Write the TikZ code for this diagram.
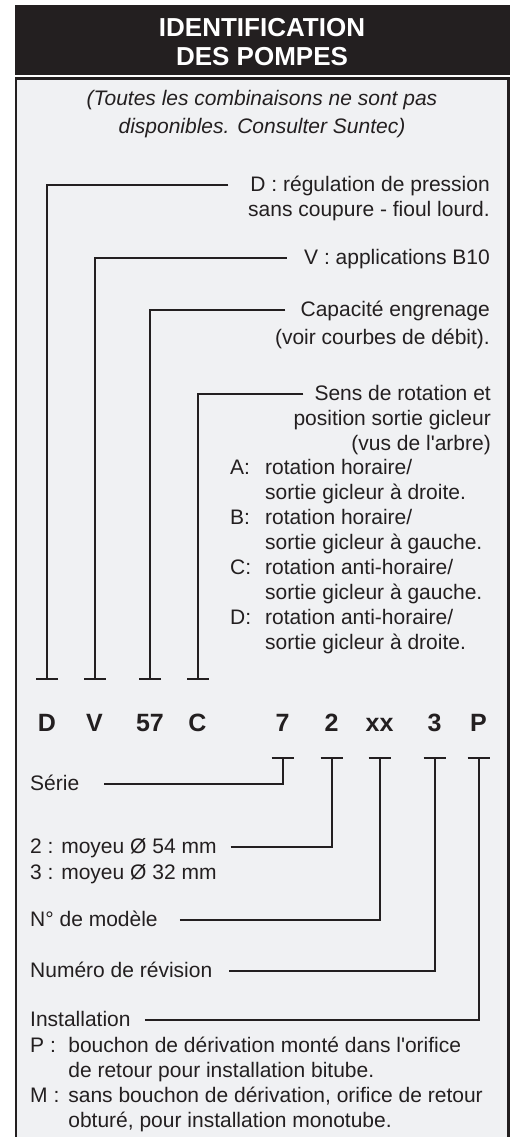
\documentclass[tikz,border=0pt]{standalone}
\usepackage{fontspec}
\setmainfont{Liberation Sans}
\usetikzlibrary{positioning, arrows.meta}
\definecolor{ink}{HTML}{231F20}
\definecolor{paper}{HTML}{F0F1F3}

\begin{document}
\begin{tikzpicture}[x=1pt,y=-1pt,node distance=25pt]
    \tikzset{txt/.style={font=\fontsize{21}{25}\selectfont,text=ink,inner sep=0pt,text height=14pt,text depth=2pt}}
    \tikzset{block/.style={font=\fontsize{21}{25}\selectfont,text=ink,inner sep=0pt}}
    \tikzset{code/.style={font=\fontsize{25}{30}\selectfont\bfseries,text=ink,inner sep=0pt,anchor=base,text height=18pt,text depth=0pt}}
    \tikzset{tee/.style={draw=ink,line width=2pt,-{Bar[width=22pt]}}}

    \useasboundingbox (0,0) rectangle (513,1137);

    % header and frame
    \fill[ink] (15,5) rectangle (509.5,75.5);
    \filldraw[fill=paper,draw=ink,line width=2.5pt] (16.2,78.5) rectangle (508.3,1160);

    \node[font=\fontsize{26}{28}\selectfont\bfseries,text=white,inner sep=0pt,anchor=base] (title1) at (262,37) {IDENTIFICATION};
    \node[font=\fontsize{26}{28}\selectfont\bfseries,text=white,inner sep=0pt,below=29pt of title1.base,anchor=base] (title2) {DES POMPES};

    \node[block,font=\fontsize{21}{25}\selectfont\itshape,anchor=base] (note1) at (262,106) {(Toutes les combinaisons ne sont pas};
    \node[block,font=\fontsize{21}{25}\selectfont\itshape,below=27pt of note1.base,anchor=base] (note2) {disponibles. Consulter Suntec)};

    % code letters
    \node[code] (cD) at (47,731) {D};
    \node[code] (cV) at (94.5,731) {V};
    \node[code] (c57) at (150,731) {57};
    \node[code] (cC) at (197.5,731) {C};
    \node[code] (c7) at (282.5,731) {7};
    \node[code] (c2) at (331.5,731) {2};
    \node[code] (cxx) at (379.5,731) {xx};
    \node[code] (c3) at (434.5,731) {3};
    \node[code] (cP) at (478.5,731) {P};

    \coordinate (tD) at ([yshift=33pt]cD.north);
    \coordinate (tV) at ([yshift=33pt]cV.north);
    \coordinate (t57) at ([yshift=33pt]c57.north);
    \coordinate (tC) at ([yshift=33pt]cC.north);
    \coordinate (b7) at ([yshift=-26pt]c7.south);
    \coordinate (b2) at ([yshift=-26pt]c2.south);
    \coordinate (bxx) at ([yshift=-26pt]cxx.south);
    \coordinate (b3) at ([yshift=-26pt]c3.south);
    \coordinate (bP) at ([yshift=-26pt]cP.south);

    % upper texts
    \node[txt,anchor=base east] (capD) at (490,191) {D : régulation de pression};
    \node[txt,below=25pt of capD.base east,anchor=base east] (capD2) {sans coupure - fioul lourd.};

    \node[txt,anchor=base east] (capV) at (490,264) {V : applications B10};

    \node[txt,anchor=base east] (capG) at (490,316) {Capacité engrenage};
    \node[txt,below=28pt of capG.base east,anchor=base east] (capG2) {(voir courbes de débit).};

    \node[txt,anchor=base east] (capC) at (491,400) {Sens de rotation et};
    \node[txt,below=25pt of capC.base east,anchor=base east] (capC2) {position sortie gicleur};
    \node[txt,below=25pt of capC2.base east,anchor=base east] (capC3) {(vus de l\textquotesingle arbre)};
    \node[block,anchor=base west] (sens) at (230,474) {\begin{tabular}[t]{@{}l@{\hspace{14pt}}l@{}}
        A: & rotation horaire/\\
           & sortie gicleur à droite.\\
        B: & rotation horaire/\\
           & sortie gicleur à gauche.\\
        C: & rotation anti-horaire/\\
           & sortie gicleur à gauche.\\
        D: & rotation anti-horaire/\\
           & sortie gicleur à droite.
    \end{tabular}};

    \draw[tee] ([xshift=-22pt]capD.west) -| (tD);
    \draw[tee] ([xshift=-17pt]capV.west) -| (tV);
    \draw[tee] ([xshift=-15pt]capG.west) -| (t57);
    \draw[tee] ([xshift=-11pt]capC.west) -| (tC);

    % lower texts
    \node[txt,anchor=base west] (serie) at (30,790) {Série};
    \node[txt,anchor=base west] (moyeu) at (30,853) {2 : moyeu Ø 54 mm};
    \node[txt,below=26pt of moyeu.base west,anchor=base west] (moyeu2) {3 : moyeu Ø 32 mm};
    \node[txt,anchor=base west] (modele) at (30,926) {N° de modèle};
    \node[txt,anchor=base west] (revision) at (30,977) {Numéro de révision};
    \node[txt,anchor=base west] (install) at (30,1026) {Installation};
    \node[block,anchor=base west] (bouchon) at (30,1052) {\begin{tabular}[t]{@{}l@{\hspace{9pt}}l@{}}
        P : & bouchon de dérivation monté dans l\textquotesingle orifice\\
            & de retour pour installation bitube.\\
        M : & sans bouchon de dérivation, orifice de retour\\
            & obturé, pour installation monotube.
    \end{tabular}};

    \draw[tee] ([xshift=25pt]serie.east) -| (b7);
    \draw[tee] ([xshift=14pt]moyeu.east) -| (b2);
    \draw[tee] ([xshift=22pt]modele.east) -| (bxx);
    \draw[tee] ([xshift=17pt]revision.east) -| (b3);
    \draw[tee] ([xshift=14pt]install.east) -| (bP);

\end{tikzpicture}
\end{document}
